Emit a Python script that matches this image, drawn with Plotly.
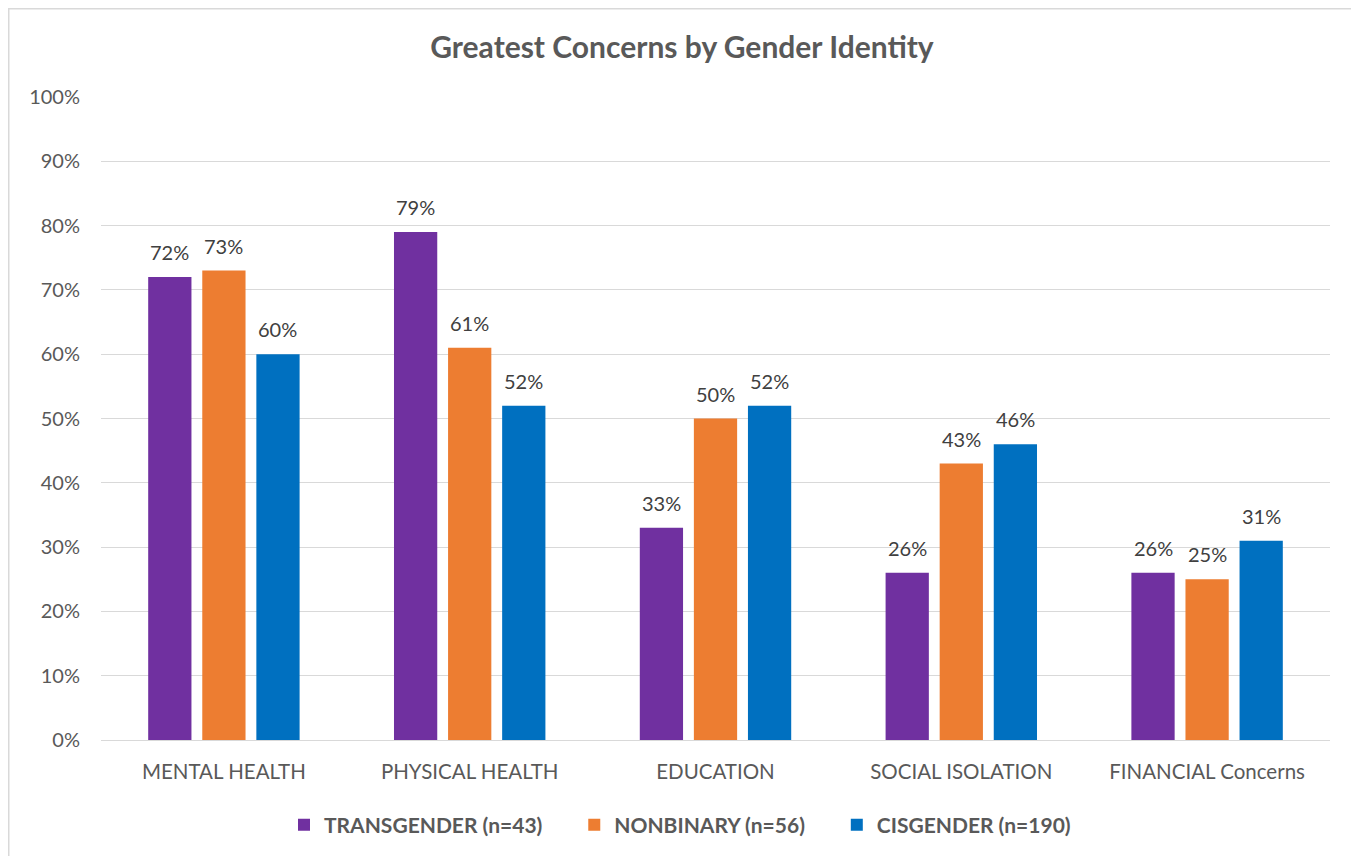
import plotly.graph_objects as go

categories = ["MENTAL HEALTH", "PHYSICAL HEALTH", "EDUCATION", "SOCIAL ISOLATION", "FINANCIAL Concerns"]
series_names = ["TRANSGENDER (n=43)", "NONBINARY (n=56)", "CISGENDER (n=190)"]
transgender = [72, 79, 33, 26, 26]
nonbinary = [73, 61, 50, 43, 25]
cisgender = [60, 52, 52, 46, 31]
colors = ["#7030A0", "#ED7D31", "#0070C0"]
y_ticks = [0, 10, 20, 30, 40, 50, 60, 70, 80, 90, 100]

FONT = "Lato, Calibri, sans-serif"
series_vals = [transgender, nonbinary, cisgender]
PAD = "\u00a0" * 5

fig = go.Figure()
for k, (name, vals, col) in enumerate(zip(series_names, series_vals, colors)):
    label = f"<b>{name}</b>" + (PAD if k < len(series_names) - 1 else "")
    fig.add_trace(go.Bar(
        x=categories, y=vals, name=label, marker_color=col,
        marker_line_width=0,
    ))

# page is offset by the 8px body margin, so the figure is 8px smaller
W, H = 1351, 848
ml, mr, mt, mb = 93, 29, 89, 116
pw = W - ml - mr
ph = H - mt - mb
bargap, bargroupgap = 0.34, 0.2
slot_px = pw / len(categories) * (1 - bargap) / 3

for i, vals in enumerate(series_vals):
    for cat, v in zip(categories, vals):
        fig.add_annotation(
            x=cat, y=v, xref="x", yref="y", text=f"{v}%", showarrow=False,
            xshift=(i - 1) * slot_px, yshift=25, yanchor="middle",
            font=dict(family=FONT, size=20, color="#404040"),
        )

fig.update_layout(
    width=W, height=H,
    margin=dict(l=ml, r=mr, t=mt, b=mb, autoexpand=False),
    paper_bgcolor="white", plot_bgcolor="white",
    barmode="group", bargap=bargap, bargroupgap=bargroupgap,
    font=dict(family=FONT, color="#595959", size=20),
    title=dict(text="<b>Greatest Concerns by Gender Identity</b>", x=(682 - 8) / W, xref="container",
               xanchor="center", y=1 - 39 / H, yanchor="middle",
               font=dict(size=30, color="#595959")),
    legend=dict(orientation="h", xref="paper", x=(680 - 8 - ml) / pw, xanchor="center",
                y=-(817 - mt - ph) / ph, yanchor="middle",
                font=dict(size=21, color="#595959", family=FONT),
                itemwidth=30, traceorder="normal"),
    xaxis=dict(showgrid=False, showline=False, ticks="", ticklabelstandoff=17,
               tickangle=0, automargin=False,
               tickfont=dict(size=20.5, color="#595959")),
    yaxis=dict(range=[0, 100], tickvals=y_ticks, ticktext=[f"{t}%" for t in y_ticks],
               showgrid=True, gridcolor="#D9D9D9", gridwidth=1.3, zeroline=True,
               zerolinecolor="#D9D9D9", zerolinewidth=1.3, showline=False, ticks="",
               ticklabelstandoff=20, automargin=False,
               tickfont=dict(size=20, color="#595959")),
)

x0 = (0.75 - ml) / pw
x1 = (1349 - ml) / pw
y1 = 1 + (mt - 0.75) / ph
y0 = -(mb + 5) / ph
fig.add_shape(type="rect", xref="paper", yref="paper", x0=x0, x1=x1, y0=y0, y1=y1,
              line=dict(color="#D9D9D9", width=1.5), fillcolor="rgba(0,0,0,0)", layer="below")

fig.write_html("out.html")
